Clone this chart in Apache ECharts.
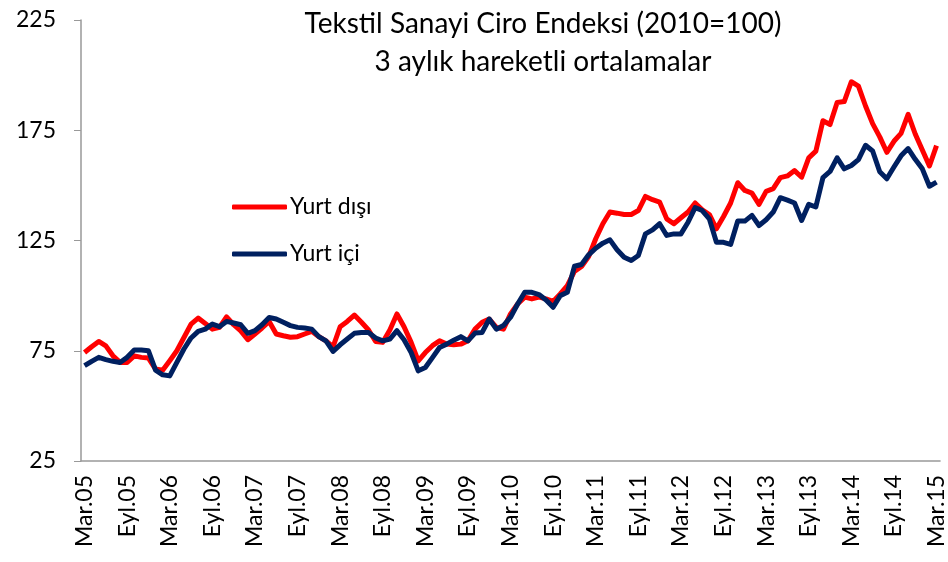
<!DOCTYPE html>
<html>
<head>
<meta charset="utf-8">
<script src="https://cdn.jsdelivr.net/npm/echarts@6/dist/echarts.min.js"></script>
<style>
  html, body { margin: 0; padding: 0; background: #fff; }
  #chart { width: 948px; height: 562px; }
</style>
</head>
<body>
<div id="chart"></div>
<script>
// month names used for the category labels (Mar.05 ... Mar.15)
const monthNames = ['Oca', 'Şub', 'Mar', 'Nis', 'May', 'Haz', 'Tem', 'Ağu', 'Eyl', 'Eki', 'Kas', 'Ara'];
const startYear = 2005;
const startMonth = 2; // Mart
const monthCount = 121;

const yTicks = [25, 75, 125, 175, 225];

// Yurt dışı (3 aylık hareketli ortalama)
const yurtDisi = [
  74.2, 76.8, 79.2, 77.2, 72.7, 69.7, 69.7, 72.7, 72.0, 71.7,
  66.7, 66.2, 70.5, 75.0, 81.0, 87.1, 89.8, 87.4, 84.8, 85.6,
  90.4, 86.8, 84.0, 80.0, 82.6, 85.3, 88.3, 82.6, 81.8, 81.1,
  81.4, 82.6, 83.8, 81.4, 79.5, 76.8, 85.9, 88.3, 91.2, 87.9,
  84.4, 79.2, 78.8, 84.4, 91.7, 85.9, 78.8, 70.4, 74.2, 77.3,
  79.5, 78.0, 77.7, 78.0, 79.5, 84.8, 87.9, 89.4, 85.6, 84.8,
  91.7, 96.2, 99.3, 98.5, 99.3, 98.5, 97.4, 100.8, 104.5, 111.0,
  113.2, 117.7, 125.8, 132.6, 137.9, 137.4, 136.8, 136.8, 138.6, 145.0,
  143.5, 142.4, 134.8, 132.6, 135.3, 137.9, 142.0, 138.9, 136.8, 130.3,
  135.9, 142.0, 151.2, 147.7, 146.5, 141.4, 147.3, 148.5, 153.5, 154.3,
  156.7, 153.7, 162.5, 165.5, 179.3, 177.6, 187.6, 188.0, 197.0, 195.0,
  186.0, 178.0, 172.0, 165.0, 170.0, 173.6, 182.2, 173.3, 166.0, 158.8,
  168.0
];

// Yurt içi (3 aylık hareketli ortalama)
const yurtIci = [
  68.2, 70.2, 72.0, 71.0, 70.2, 69.7, 72.0, 75.3, 75.3, 75.0,
  66.2, 64.1, 63.6, 69.7, 75.8, 80.8, 83.8, 84.8, 87.1, 85.9,
  88.3, 87.6, 86.8, 82.9, 84.1, 86.8, 90.1, 89.4, 87.9, 86.4,
  85.6, 85.3, 84.8, 81.4, 79.5, 74.7, 77.7, 80.3, 82.9, 83.3,
  83.3, 80.8, 79.5, 80.3, 84.1, 80.0, 74.2, 65.9, 67.4, 71.9,
  76.5, 78.0, 79.8, 81.4, 79.5, 83.0, 83.3, 89.4, 84.8, 86.4,
  90.2, 96.2, 101.5, 101.5, 100.5, 98.0, 94.7, 100.0, 101.5, 113.3,
  114.1, 118.5, 121.5, 123.8, 125.3, 120.8, 117.4, 115.9, 118.2, 128.0,
  129.8, 132.6, 127.3, 128.0, 128.0, 133.3, 139.9, 138.6, 134.8, 124.2,
  124.2, 123.2, 133.8, 133.8, 136.4, 131.8, 134.4, 137.9, 144.4, 143.3,
  142.0, 134.1, 141.4, 140.2, 153.5, 156.3, 162.5, 157.5, 159.0, 161.7,
  168.2, 165.6, 156.2, 153.0, 158.3, 163.4, 166.7, 161.8, 157.5, 149.6,
  151.5
];

const categories = [];
for (let k = 0; k < monthCount; k++) {
  const m = (startMonth + k) % 12;
  const y = startYear + Math.floor((startMonth + k) / 12);
  categories.push(monthNames[m] + '.' + String(y % 100).padStart(2, '0'));
}

const font = 'Lato, "Open Sans", sans-serif';
const chart = echarts.init(document.getElementById('chart'));

chart.setOption({
  animation: false,
  title: {
    text: 'Tekstil Sanayi Ciro Endeksi (2010=100)\n3 aylık hareketli ortalamalar',
    left: 538,
    top: 0,
    textAlign: 'center',
    textStyle: {
      fontFamily: font,
      fontSize: 28,
      fontWeight: 'normal',
      color: '#000',
      lineHeight: 38
    }
  },
  legend: {
    orient: 'vertical',
    left: 227,
    top: 189,
    itemWidth: 55,
    itemHeight: 5,
    itemGap: 21,
    icon: 'roundRect',
    textStyle: {
      fontFamily: font,
      fontSize: 23,
      color: '#000',
      lineHeight: 26,
      padding: [0, 0, 0, -2]
    },
    data: ['Yurt dışı', 'Yurt içi']
  },
  grid: {
    left: 81,
    right: 0,
    top: 20,
    bottom: 101
  },
  xAxis: {
    type: 'category',
    data: categories,
    boundaryGap: true,
    axisLine: { lineStyle: { color: '#999', width: 1.5 } },
    axisTick: { interval: 5, length: 6, lineStyle: { color: '#999' } },
    axisLabel: {
      interval: 5,
      rotate: 90,
      margin: 14,
      fontFamily: font,
      fontSize: 23,
      color: '#000'
    },
    splitLine: { show: false }
  },
  yAxis: {
    type: 'value',
    min: yTicks[0],
    max: yTicks[yTicks.length - 1],
    interval: 50,
    axisLine: { show: true, lineStyle: { color: '#999', width: 1.5 } },
    axisTick: { show: true, length: 7, lineStyle: { color: '#999' } },
    axisLabel: {
      margin: 25,
      fontFamily: font,
      fontSize: 23,
      color: '#000'
    },
    splitLine: { show: false }
  },
  series: [
    {
      name: 'Yurt dışı',
      type: 'line',
      data: yurtDisi,
      showSymbol: false,
      symbol: 'none',
      color: '#ff0000',
      lineStyle: { width: 5, color: '#ff0000', join: 'round' }
    },
    {
      name: 'Yurt içi',
      type: 'line',
      data: yurtIci,
      showSymbol: false,
      symbol: 'none',
      color: '#002060',
      lineStyle: { width: 5, color: '#002060', join: 'round' }
    }
  ]
});
</script>
</body>
</html>
